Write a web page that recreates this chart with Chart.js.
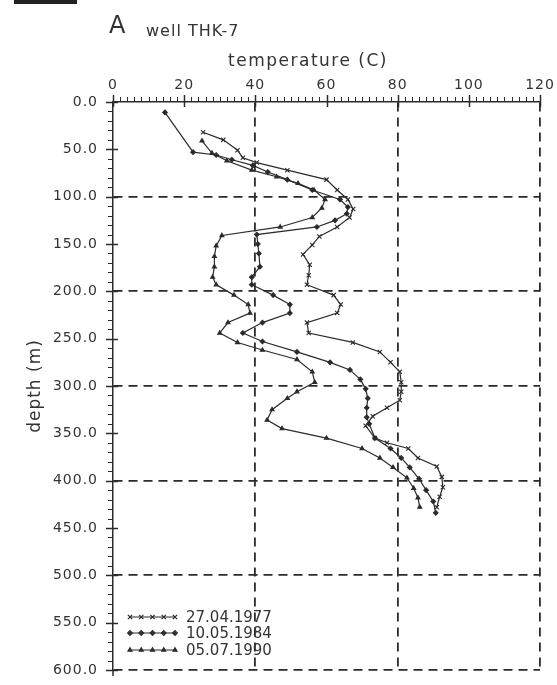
<!DOCTYPE html>
<html>
<head>
<meta charset="utf-8">
<script src="https://cdn.jsdelivr.net/npm/chart.js@4.4.0/dist/chart.umd.min.js"></script>
<style>
    html, body { margin: 0; padding: 0; background: #fff; }
    #wrap { position: relative; width: 557px; height: 685px; }
    #bar { position: absolute; left: 14px; top: 0; width: 63px; height: 4px; background: #222; }
</style>
</head>
<body>
<div id="wrap">
    <canvas id="wellChart" width="557" height="685"></canvas>
    <div id="bar"></div>
</div>
<script>
// temperature logs of well THK-7, depth in m, temperature in C
var labels1977 = '27.04.1977';
var depth1977 = [32, 40, 51, 59, 64, 72, 82, 93, 103, 113, 122, 132, 142, 151, 161, 172, 183, 193, 204, 214,
    223, 233, 244, 254, 264, 275, 285, 296, 306, 315, 323, 332, 342, 355, 360, 366, 376, 385, 396, 407, 417, 428];
var temp1977 = [25.3, 31, 35, 36.5, 40.4, 49, 60, 63, 66, 67.5, 66.5, 63, 58, 56, 53.4, 55.3, 55, 54.5, 62, 64,
    63, 54.5, 55, 67.4, 75, 78, 80.6, 81, 81, 80.6, 77, 73, 71, 73.6, 77, 83, 85.7, 91, 92.4, 92.7, 91.8, 91];

var labels1984 = '10.05.1984';
var depth1984 = [11, 53, 56, 61, 67, 74, 82, 93, 103, 111, 118, 125, 132, 140, 150, 160, 174, 185, 193, 204,
    214, 223, 233, 244, 253, 264, 275, 283, 293, 303, 313, 323, 333, 340, 355, 366, 376, 386, 398, 410, 422, 434];
var temp1984 = [14.6, 22.5, 29, 33.4, 39.3, 43.5, 49, 56, 63.8, 66, 65.7, 62.4, 57.3, 40.4, 40.7, 41, 41.3, 39, 39, 45,
    49.7, 49.7, 42, 36.5, 42, 51.7, 61, 66.6, 69.5, 71, 71.6, 71.3, 71.3, 72, 73.6, 78, 81, 83.4, 86, 88, 90, 90.7];

var labels1990 = '05.07.1990';
var depth1990 = [41, 54, 62, 72, 79, 86, 93, 103, 112, 122, 132, 141, 152, 163, 174, 185, 193, 204, 214, 223,
    233, 244, 254, 262, 272, 285, 296, 306, 313, 325, 336, 345, 355, 366, 376, 386, 397, 408, 418, 428];
var temp1990 = [25, 27.8, 32, 39, 46, 52, 56.5, 59.6, 58.7, 56, 47, 30.6, 29, 28.5, 28.5, 28, 29, 34, 38, 38.5,
    32.3, 30, 35, 42, 51.7, 56, 56.7, 51.7, 49, 44.7, 43.3, 47.5, 60, 70, 75, 78.7, 82.6, 84.5, 85.7, 86.2];

var depthTicks = [0, 50, 100, 150, 200, 250, 300, 350, 400, 450, 500, 550, 600];

function toPoints(temps, depths) {
    return temps.map(function (t, i) { return { x: t, y: depths[i] }; });
}

var ink = '#2b2b2b';
var textInk = '#333';

function series(label, temps, depths, style, radius) {
    return {
        label: label,
        data: toPoints(temps, depths),
        showLine: true,
        borderColor: ink,
        backgroundColor: ink,
        borderWidth: 1.2,
        pointStyle: style,
        pointRadius: radius,
        pointBorderWidth: 1.1,
        pointBorderColor: ink,
        pointBackgroundColor: ink,
        tension: 0
    };
}

// axis comb: minor ticks every 2 C and every 10 m, longer at the labelled values
var combPlugin = {
    id: 'comb',
    afterDraw: function (chart) {
        var ctx = chart.ctx;
        var xs = chart.scales.x, ys = chart.scales.y;
        var top = chart.chartArea.top, left = chart.chartArea.left;
        ctx.save();
        ctx.strokeStyle = ink;
        ctx.setLineDash([]);
        for (var v = 0; v <= 120; v += 2) {
            var px = Math.round(xs.getPixelForValue(v)) + 0.5;
            var major = v % 20 === 0;
            ctx.lineWidth = major ? 1.5 : 1;
            ctx.beginPath();
            ctx.moveTo(px, top - (major ? 7 : 5));
            ctx.lineTo(px, top + (major ? 5 : 0));
            ctx.stroke();
        }
        for (var d = 0; d <= 600; d += 10) {
            var py = Math.round(ys.getPixelForValue(d)) + 0.5;
            var big = d % 50 === 0;
            ctx.lineWidth = big ? 1.5 : 1;
            ctx.beginPath();
            ctx.moveTo(left - (big ? 7 : 5), py);
            ctx.lineTo(left + (big ? 5 : 0), py);
            ctx.stroke();
        }
        ctx.lineWidth = 1.5;
        ctx.beginPath();
        ctx.moveTo(left, chart.chartArea.bottom);
        ctx.lineTo(left, chart.chartArea.bottom + 6);
        ctx.stroke();
        ctx.restore();
    }
};

var headerPlugin = {
    id: 'header',
    beforeDraw: function (chart) {
        chart.ctx.letterSpacing = '1px';
    },
    afterDraw: function (chart) {
        var ctx = chart.ctx;
        var area = chart.chartArea;
        ctx.save();
        ctx.fillStyle = textInk;
        ctx.textBaseline = 'alphabetic';
        ctx.letterSpacing = '0px';
        ctx.font = '24px "DejaVu Sans"';
        ctx.fillText('A', 109, 33);
        ctx.letterSpacing = '1px';
        ctx.font = '16px "DejaVu Sans"';
        ctx.fillText('well THK-7', 146, 36);
        ctx.font = '17px "DejaVu Sans"';
        ctx.letterSpacing = '1.5px';
        ctx.textAlign = 'center';
        ctx.textBaseline = 'middle';
        ctx.fillText('temperature (C)', 308, 62);

        // legend inside the plot, bottom left
        ctx.letterSpacing = '0px';
        ctx.textAlign = 'left';
        ctx.font = '15px "DejaVu Sans"';
        var rows = [area.bottom - 53, area.bottom - 37, area.bottom - 20];
        chart.data.datasets.forEach(function (ds, i) {
            var y = rows[i];
            ctx.strokeStyle = ink;
            ctx.lineWidth = 1.2;
            ctx.beginPath();
            ctx.moveTo(130, y);
            ctx.lineTo(175, y);
            ctx.stroke();
            for (var k = 0; k < 5; k++) {
                Chart.helpers.drawPoint(ctx, {
                    pointStyle: ds.pointStyle,
                    radius: ds.pointRadius,
                    borderWidth: 1.1,
                    rotation: 0
                }, 130 + k * 11.25, y);
            }
            ctx.fillStyle = textInk;
            ctx.fillText(ds.label, 186, y + 1);
        });
        ctx.restore();
        ctx.letterSpacing = '0px';
    }
};

var wellCtx = document.getElementById('wellChart').getContext('2d');
var wellChart = new Chart(wellCtx, {
    type: 'scatter',
    data: {
        datasets: [
            series(labels1977, temp1977, depth1977, 'crossRot', 3),
            series(labels1984, temp1984, depth1984, 'rectRot', 2.3),
            series(labels1990, temp1990, depth1990, 'triangle', 2.3)
        ]
    },
    options: {
        responsive: false,
        animation: false,
        devicePixelRatio: 1,
        layout: {
            padding: { left: 0, top: 56, right: 17, bottom: 15 }
        },
        scales: {
            x: {
                type: 'linear',
                position: 'top',
                min: 0,
                max: 120,
                afterFit: function (scale) {
                    scale.height = 46;
                    scale.paddingLeft = 0;
                    scale.paddingRight = 0;
                },
                ticks: {
                    stepSize: 20,
                    autoSkip: false,
                    maxRotation: 0,
                    padding: 8,
                    color: textInk,
                    font: { family: 'DejaVu Sans', size: 14 }
                },
                grid: {
                    color: function (c) {
                        var v = c.tick ? c.tick.value : 0;
                        return (v > 0 && v % 40 === 0) ? ink : 'rgba(0,0,0,0)';
                    },
                    lineWidth: 1.8,
                    drawTicks: false
                },
                border: {
                    display: true,
                    color: ink,
                    width: 1.5,
                    dash: [9, 6]
                }
            },
            y: {
                type: 'linear',
                position: 'left',
                reverse: true,
                min: 0,
                max: 600,
                afterFit: function (scale) {
                    scale.width = 113;
                    scale.paddingTop = 0;
                    scale.paddingBottom = 0;
                },
                title: {
                    display: true,
                    text: 'depth (m)',
                    color: textInk,
                    font: { family: 'DejaVu Sans', size: 17 },
                    padding: { top: 25, bottom: 0 }
                },
                ticks: {
                    stepSize: 50,
                    autoSkip: false,
                    padding: 15,
                    color: textInk,
                    font: { family: 'DejaVu Sans', size: 14 },
                    callback: function (v) { return depthTicks.indexOf(v) >= 0 ? v.toFixed(1) : ''; }
                },
                grid: {
                    color: function (c) {
                        var v = c.tick ? c.tick.value : 0;
                        return (v > 0 && v % 100 === 0) ? ink : 'rgba(0,0,0,0)';
                    },
                    lineWidth: 1.8,
                    drawTicks: false
                },
                border: {
                    display: true,
                    color: ink,
                    width: 1.5,
                    dash: [9, 6]
                }
            }
        },
        plugins: {
            legend: { display: false },
            tooltip: { enabled: false }
        }
    },
    plugins: [combPlugin, headerPlugin]
});
</script>
</body>
</html>
